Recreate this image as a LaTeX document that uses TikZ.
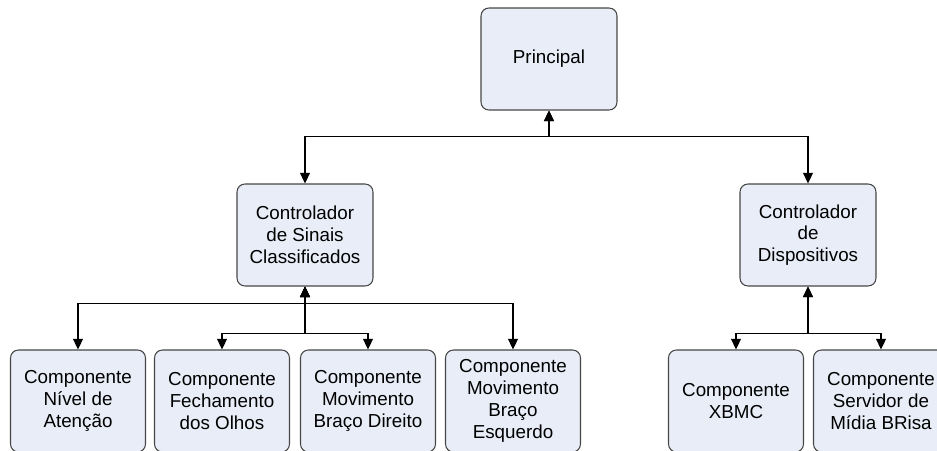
\documentclass[tikz,border=0pt]{standalone}
\usepackage{fontspec}
\setmainfont{Liberation Sans}
\usetikzlibrary{arrows.meta}
\definecolor{boxfill}{RGB}{232,237,247}
\definecolor{boxline}{RGB}{70,70,70}

\tikzset{
  modulo/.style={draw=boxline, fill=boxfill, line width=0.6pt, rounded corners=4.5pt,
    minimum width=2.72cm, minimum height=2.04cm, align=center,
    font=\fontsize{10.7}{12.4}\selectfont},
  ligacao/.style={line width=1.1pt, {Triangle[length=6pt,width=5.5pt]}-{Triangle[length=6pt,width=5.5pt]}}
}

\begin{document}
\begin{tikzpicture}[x=0.02cm, y=-0.02cm]
                        \clip (0,0) rectangle (937,450);
                        \useasboundingbox (0,0) rectangle (937,450);
                        % nivel superior
                        \node[modulo] (principal) at (549, 59) {Principal};
                        \node[modulo] (ctrlsinais) at (305, 235) {Controlador\\de Sinais\\Classificados};
                        \node[modulo] (ctrldisp) at (808, 235) {Controlador\\de\\Dispositivos};
                        % componentes
                        \node[modulo, minimum width=2.7cm] (nivel) at (78, 401) {Componente\\Nível de\\Atenção};
                        \node[modulo, minimum width=2.7cm] (fechamento) at (222, 401) {Componente\\Fechamento\\dos Olhos};
                        \node[modulo, minimum width=2.7cm] (bracodir) at (368, 401) {Componente\\Movimento\\Braço Direito};
                        \node[modulo, minimum width=2.7cm] (bracoesq) at (513, 401) {Componente\\Movimento\\Braço\\Esquerdo};
                        \node[modulo, minimum width=2.7cm] (xbmc) at (736, 401) {Componente\\XBMC};
                        \node[modulo, minimum width=2.7cm] (brisa) at (881, 401) {Componente\\Servidor de\\Mídia BRisa};
                        % ligacoes
                        \draw[ligacao] (principal.south) -- ++(0,26) -| (ctrlsinais.north);
                        \draw[ligacao] (principal.south) -- ++(0,26) -| (ctrldisp.north);
                        \draw[ligacao] (ctrlsinais.south) -- ++(0,17) -| (nivel.north);
                        \draw[ligacao] (ctrlsinais.south) -- ++(0,17) -| (bracoesq.north);
                        \draw[ligacao] (ctrlsinais.south) -- ++(0,47) -| (fechamento.north);
                        \draw[ligacao] (ctrlsinais.south) -- ++(0,47) -| (bracodir.north);
                        \draw[ligacao] (ctrldisp.south) -- ++(0,47) -| (xbmc.north);
                        \draw[ligacao] (ctrldisp.south) -- ++(0,47) -| (brisa.north);
                    \end{tikzpicture}
\end{document}
